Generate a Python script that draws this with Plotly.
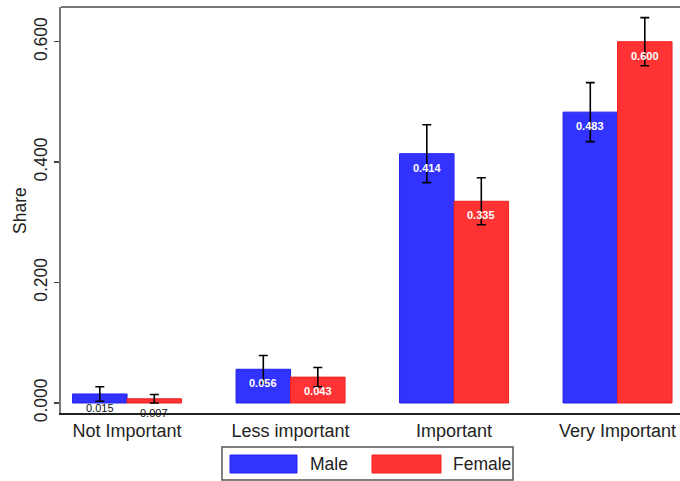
import plotly.graph_objects as go

categories = ["Not Important", "Less important", "Important", "Very Important"]
male_share = [0.015, 0.056, 0.414, 0.483]
female_share = [0.007, 0.043, 0.335, 0.600]
male_err = [0.012, 0.023, 0.048, 0.049]
female_err = [0.007, 0.016, 0.039, 0.040]
y_ticks = [0.0, 0.2, 0.4, 0.6]
series_names = ["Male", "Female"]
y_title = "Share"

W, H = 680, 481
L, R, T, B = 61, 680, 7, 413

BLUE = "#3333FF"
BLUE_LINE = "#2222EE"
RED = "#FF3333"
RED_LINE = "#EE2222"
FONT = "Liberation Sans, Arial"

bw = 1 / 3
xm = [i - bw / 2 for i in range(len(categories))]
xf = [i + bw / 2 for i in range(len(categories))]

fig = go.Figure()
fig.add_trace(go.Bar(
    x=xm, y=male_share, width=bw, name=series_names[0],
    marker=dict(color=BLUE, line=dict(color=BLUE_LINE, width=1)),
    error_y=dict(type="data", array=male_err, color="black", thickness=1.6, width=4.5),
    showlegend=False, hoverinfo="skip",
))
fig.add_trace(go.Bar(
    x=xf, y=female_share, width=bw, name=series_names[1],
    marker=dict(color=RED, line=dict(color=RED_LINE, width=1)),
    error_y=dict(type="data", array=female_err, color="black", thickness=1.6, width=4.5),
    showlegend=False, hoverinfo="skip",
))

annotations = []
for xs, vals in ((xm, male_share), (xf, female_share)):
    for x, v in zip(xs, vals):
        col = "white" if v > 0.03 else "#111111"
        annotations.append(dict(
            x=x, y=v, xref="x", yref="y", text=f"<b>{v:.3f}</b>" if v > 0.03 else f"{v:.3f}",
            showarrow=False, yshift=-14,
            font=dict(family=FONT, size=11, color=col),
        ))

# custom legend (paper coords)
def px(xp):
    return (xp - L) / (R - L)

def py(yp):
    return (B - yp) / (B - T)

shapes = [
    dict(type="rect", xref="paper", yref="paper", x0=px(222), x1=px(513), y0=py(480), y1=py(447),
         line=dict(color="#555555", width=1.5), fillcolor="white", layer="above"),
    dict(type="rect", xref="paper", yref="paper", x0=px(230), x1=px(297), y0=py(473), y1=py(455),
         line=dict(color=BLUE_LINE, width=1), fillcolor=BLUE, layer="above"),
    dict(type="rect", xref="paper", yref="paper", x0=px(372), x1=px(441), y0=py(473), y1=py(455),
         line=dict(color=RED_LINE, width=1), fillcolor=RED, layer="above"),
    # top frame line
    dict(type="line", xref="paper", yref="paper", x0=0, x1=1, y0=1, y1=1,
         line=dict(color="#777777", width=2)),
]
for xt, name in ((308, series_names[0]), (451, series_names[1])):
    annotations.append(dict(
        x=px(xt), y=py(464), xref="paper", yref="paper", text=name, showarrow=False,
        xanchor="left", yanchor="middle",
        font=dict(family=FONT, size=17.5, color="#222222"),
    ))
annotations.append(dict(
    x=px(20), y=py(211), xref="paper", yref="paper", text=y_title, showarrow=False,
    textangle=-90, xanchor="center", yanchor="middle",
    font=dict(family=FONT, size=17.5, color="#222222"),
))

fig.update_layout(
    width=W, height=H,
    margin=dict(l=L, r=W - R, t=T, b=H - B, pad=0, autoexpand=False),
    paper_bgcolor="white", plot_bgcolor="white",
    barmode="overlay",
    showlegend=False,
    hovermode=False,
    font=dict(family=FONT, size=18, color="#222222"),
    shapes=shapes,
    annotations=annotations,
    xaxis=dict(
        range=[-0.404, 3.382], tickmode="array", tickvals=list(range(len(categories))),
        ticktext=categories, showgrid=False, zeroline=False, showline=True,
        linecolor="#222222", linewidth=2, ticks="", tickfont=dict(size=18, color="#222222"),
        automargin=False,
    ),
    yaxis=dict(
        range=[-0.0166, 0.6576], tickmode="array", tickvals=y_ticks,
        ticktext=[f"{v:.3f}" for v in y_ticks], tickangle=-90,
        showgrid=False, zeroline=False, showline=True, linecolor="#777777", linewidth=2,
        ticks="outside", ticklen=5, tickwidth=1.5, tickcolor="#444444",
        tickfont=dict(size=17.5, color="#222222"), automargin=False,
    ),
)

fig.write_html(
    "out.html",
    config={"displayModeBar": False, "staticPlot": True},
    post_script="document.body.style.margin='0';document.body.style.overflow='hidden';",
)
